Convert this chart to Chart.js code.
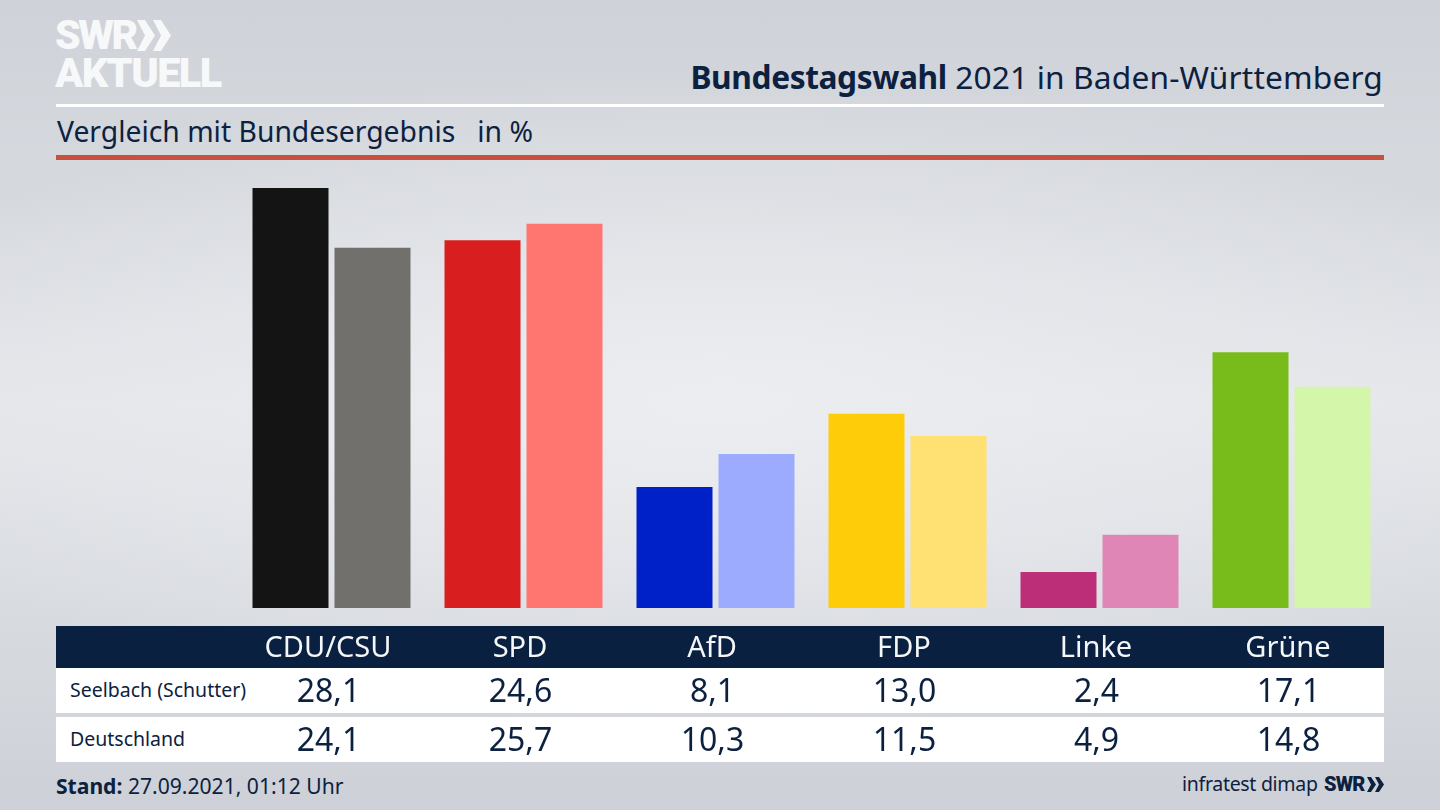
<!DOCTYPE html>
<html lang="de"><head><meta charset="utf-8">
<script src="https://cdn.jsdelivr.net/npm/chart.js@4"></script>
<style>
html,body{margin:0;padding:0;width:1440px;height:810px;overflow:hidden}
body{position:relative;font-family:"Noto Sans",sans-serif;color:#0c2140;
background:radial-gradient(ellipse 900px 330px at 720px 400px,rgba(236,237,241,.95),rgba(236,237,241,0) 100%),linear-gradient(180deg,#cfd2d8 0%,#d6d9de 25%,#e4e6ea 50%,#d8dbe0 75%,#cdd0d6 100%)}
.a{position:absolute;white-space:pre;line-height:1}
.b{position:absolute;left:56px;width:1328px}
canvas{position:absolute;left:0;top:0}
</style></head><body>
<div class="a" style="left:55px;top:15px;font:900 41px/1 Roboto;color:#f7f8f9;letter-spacing:-2.4px">SWR</div>
<svg class="a" style="left:137px;top:20px" width="34" height="31"><path d="M0 0h8l10 15.500-10 15.500H0l8-15.500zM16 0h8l10 15.500-10 15.500H16l8-15.500z" fill="#f7f8f9"/></svg>
<div class="a" style="left:55px;top:52px;font:900 41.500px/1 Roboto;color:#f7f8f9;letter-spacing:-1.600px">AKTUELL</div>
<div class="a" style="right:57px;top:61px;font-size:31.700px;letter-spacing:.15px"><b style="letter-spacing:-.4px">Bundestagswahl</b> 2021 in Baden-Württemberg</div>
<div class="b" style="top:104px;height:3px;background:#fff"></div>
<div class="a" style="left:57px;top:117px;font-size:28.300px">Vergleich mit Bundesergebnis   in %</div>
<div class="b" style="top:155px;height:5px;background:#c9503f"></div>
<div class="b" style="top:626px;height:42px;background:#0a2040"></div>
<div class="b" style="top:668px;height:45px;background:#fff"></div>
<div class="b" style="top:717px;height:45px;background:#fff"></div>
<div class="a" style="left:70px;top:680px;font-size:19.500px" id="r1"></div>
<div class="a" style="left:70px;top:729px;font-size:19.500px" id="r2"></div>
<div class="a" style="left:56px;top:775px;font-size:21.100px"><b>Stand:</b> 27.09.2021, 01:12 Uhr</div>
<div class="a" style="left:1182px;top:774px;font-size:19.500px;letter-spacing:-.3px">infratest dimap</div>
<div class="a" style="left:1324px;top:774px;font:900 20px/1 Roboto;letter-spacing:-.8px">SWR</div>
<svg class="a" style="left:1367px;top:777px" width="17" height="15"><path d="M0 0h4l5 7.500-5 7.500H0l4-7.500zM8 0h4l5 7.500-5 7.500H8l4-7.500z" fill="#0c2140"/></svg>
<canvas id="c" width="1440" height="810"></canvas>
<script>
const categories=["CDU/CSU","SPD","AfD","FDP","Linke","Grüne"];
const rowNames=["Seelbach (Schutter)","Deutschland"];
const seelbach=[28.1,24.6,8.1,13.0,2.4,17.1];
const deutschland=[24.1,25.7,10.3,11.5,4.9,14.8];
const coloursLocal=["#141414","#d81e1e","#0020c8","#ffcc0a","#bd2e78","#78bc1c"];
const coloursFederal=["#72706d","#ff7570","#9dabff","#ffe072","#e086b6","#d3f6aa"];
document.getElementById("r1").textContent=rowNames[0];
document.getElementById("r2").textContent=rowNames[1];
const fmt=v=>v.toFixed(1).replace(".",",");
const rowValues={id:"rowValues",afterDraw(ch){
  const c=ch.ctx,x=ch.scales.x;c.save();
  c.font='32px "Noto Sans"';c.fillStyle="#0c2140";c.textAlign="center";c.textBaseline="middle";
  [[seelbach,693],[deutschland,742]].forEach(([arr,y])=>arr.forEach((v,i)=>c.fillText(fmt(v),x.getPixelForValue(i)-3,y)));
  c.restore();}};
new Chart(document.getElementById("c"),{type:"bar",
 data:{labels:categories,datasets:[
  {label:rowNames[0],data:seelbach,backgroundColor:coloursLocal},
  {label:rowNames[1],data:deutschland,backgroundColor:coloursFederal}]},
 options:{responsive:false,animation:false,
  layout:{padding:{left:235.5,right:52.5,top:159.5,bottom:0}},
  plugins:{legend:{display:false},tooltip:{enabled:false}},
  datasets:{bar:{categoryPercentage:164/192,barPercentage:76/82}},
  scales:{
   x:{grid:{display:false,drawTicks:false},border:{display:false},
      afterFit:s=>{s.height=202},
      ticks:{color:"#f4f6f8",font:{family:"Noto Sans",size:29},padding:23,labelOffset:-3.5,maxRotation:0,autoSkip:false}},
   y:{display:false,min:0,max:30}
  }},plugins:[rowValues]});
</script>
</body></html>
